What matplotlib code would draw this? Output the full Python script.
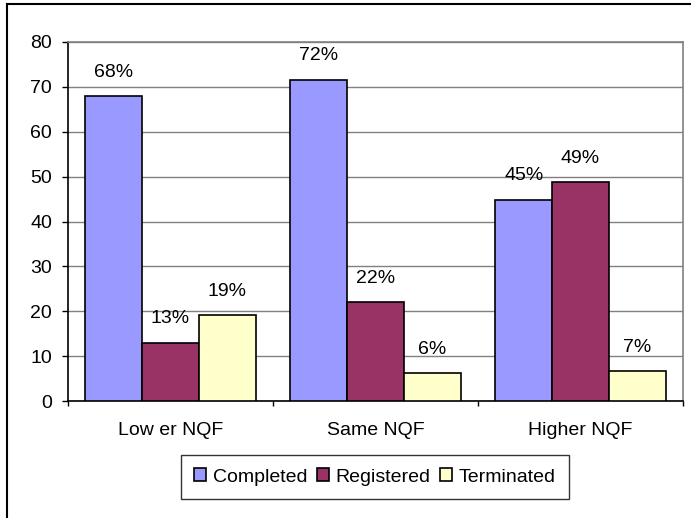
import numpy as np
import matplotlib
matplotlib.use("Agg")
import matplotlib.pyplot as plt
from matplotlib.lines import Line2D

plt.rcParams['font.family'] = ['Liberation Sans', 'DejaVu Sans']

categories = ['Low er NQF', 'Same NQF', 'Higher NQF']
series_names = ['Completed', 'Registered', 'Terminated']
completed = [67.9, 71.6, 44.9]
registered = [13.0, 22.1, 48.7]
terminated = [19.2, 6.2, 6.6]
pct_labels = [
    ['68%', '72%', '45%'],
    ['13%', '22%', '49%'],
    ['19%', '6%', '7%'],
]
colors = ['#9999FF', '#993366', '#FFFFCC']

W, H = 691, 518
FS = 14
fig = plt.figure(figsize=(W / 100, H / 100), dpi=100)
ax = fig.add_axes([68 / W, 1 - 401 / H, (683 - 68) / W, (401 - 42) / H])

x = np.arange(len(categories))
bw = 0.277
for i, (vals, col) in enumerate(zip([completed, registered, terminated], colors)):
    pos = x + (i - 1) * bw
    ax.bar(pos, vals, bw, color=col, edgecolor='black', linewidth=1.2,
           label=series_names[i], zorder=3)
    for p, v, lab in zip(pos, vals, pct_labels[i]):
        ax.annotate(lab, (p, v), xytext=(0, 11), textcoords='offset points',
                    ha='center', va='bottom', fontsize=FS)

ax.set_xlim(-0.5, 2.5)
ax.set_ylim(0, 80)
ax.set_yticks(range(0, 81, 10))
ax.yaxis.grid(True, color='#808080', linewidth=1, zorder=0)
ax.set_xticks([-0.5, 0.5, 1.5, 2.5], minor=False)
ax.set_xticklabels([])
ax.set_xticks(x, minor=True)
ax.set_xticklabels(categories, minor=True)
ax.tick_params(axis='x', which='minor', length=0, pad=15, labelsize=FS)
ax.tick_params(axis='x', which='major', length=3.5, direction='out', width=1)
ax.tick_params(axis='y', length=4.5, direction='out', width=1, labelsize=FS, pad=7)

for s in ['top', 'right']:
    ax.spines[s].set_color('#808080')
    ax.spines[s].set_linewidth(1.2)
for s in ['left', 'bottom']:
    ax.spines[s].set_color('black')
    ax.spines[s].set_linewidth(1.2)

leg = fig.legend(loc='center', bbox_to_anchor=(375 / W, 1 - 477 / H), ncol=3,
                 fontsize=FS, frameon=True, fancybox=False, handlelength=0.6,
                 handleheight=0.6, handletextpad=0.35, columnspacing=0.5,
                 borderpad=0.7, borderaxespad=0, edgecolor='black')
leg.get_frame().set_linewidth(1.0)

# outer chart frame
fig.add_artist(Line2D([7 / W, 7 / W], [0, 1 - 4 / H], color='black', linewidth=1.5))
fig.add_artist(Line2D([7 / W, 1], [1 - 4 / H, 1 - 4 / H], color='black', linewidth=1.5))

fig.savefig('out.png', dpi=100)
